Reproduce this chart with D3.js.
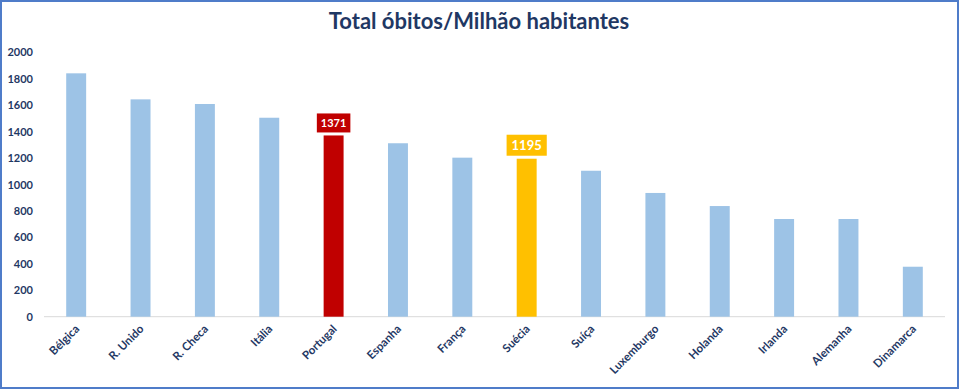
<!DOCTYPE html>
<html><head><meta charset="utf-8">
<script src="https://cdn.jsdelivr.net/npm/d3@7"></script>
<style>body{margin:0;background:#fff}svg{display:block}</style>
</head><body>
<script>
const categories = ["Bélgica","R. Unido","R. Checa","Itália","Portugal","Espanha","França","Suécia","Suíça","Luxemburgo","Holanda","Irlanda","Alemanha","Dinamarca"];
const values = [1841,1644,1609,1505,1371,1312,1203,1195,1104,936,837,739,739,378];
const yTicks = [0,200,400,600,800,1000,1200,1400,1600,1800,2000];
const highlight = {"Portugal":"#C00000","Suécia":"#FFC000"};
const title = "Total óbitos/Milhão habitantes";

const W=960,H=390;
const svg=d3.select("body").append("svg").attr("width",W).attr("height",H);
svg.append("rect").attr("x",1).attr("y",1).attr("width",W-3).attr("height",H-3)
  .attr("fill","#fff").attr("stroke","#4F7CC9").attr("stroke-width",2);

const font="Lato, 'Open Sans', sans-serif";
const navy="#1F3864";

svg.append("text").attr("x",479).attr("y",29).attr("text-anchor","middle")
  .attr("font-family",font).attr("font-weight","bold").attr("font-size",22)
  .attr("fill",navy).text(title);

const x=d3.scaleBand().domain(categories).range([44,945]).paddingInner(0.69).paddingOuter(0.345);
const y=d3.scaleLinear().domain([0,2000]).range([316.7,52.3]);

// y axis labels
const ya=svg.append("g").attr("transform","translate(33,0)")
  .call(d3.axisLeft(y).tickValues(yTicks).tickSize(0).tickPadding(0).tickFormat(d3.format("d")));
ya.select(".domain").remove();
ya.selectAll("text").attr("font-family",font).attr("font-weight","bold").attr("font-size",11).attr("fill",navy);

// baseline
svg.append("line").attr("x1",44).attr("x2",945).attr("y1",y(0)).attr("y2",y(0))
  .attr("stroke","#D9D9D9").attr("stroke-width",1);

svg.selectAll("rect.bar").data(categories).join("rect").attr("class","bar")
  .attr("x",d=>x(d)).attr("width",x.bandwidth())
  .attr("y",(d,i)=>y(values[i])).attr("height",(d,i)=>y(0)-y(values[i]))
  .attr("fill",d=>highlight[d]||"#9DC3E6");

// x labels
const xa=svg.append("g").attr("transform",`translate(0,${y(0)})`)
  .call(d3.axisBottom(x).tickSize(0).tickPadding(0));
xa.select(".domain").remove();
xa.selectAll("text").attr("font-family",font).attr("font-weight","bold").attr("font-size",11.5).attr("fill",navy)
  .attr("text-anchor","end").attr("dy",null)
  .attr("transform","translate(4,13) rotate(-45)");

// data labels for highlighted bars
const lab=[{c:"Portugal",fs:11,padX:4,h:19},{c:"Suécia",fs:13,padX:5,h:21}];
lab.forEach(l=>{
  const i=categories.indexOf(l.c);
  const cx=x(l.c)+x.bandwidth()/2;
  const top=y(values[i]);
  const g=svg.append("g");
  const t=g.append("text").attr("x",cx).attr("y",top-3-l.h/2).attr("dy","0.36em")
    .attr("text-anchor","middle").attr("font-family",font).attr("font-weight","bold")
    .attr("font-size",l.fs).attr("fill","#fff").text(values[i]);
  const bb=t.node().getBBox();
  g.insert("rect","text").attr("x",bb.x-l.padX).attr("width",bb.width+2*l.padX)
    .attr("y",top-3-l.h).attr("height",l.h).attr("fill",highlight[l.c]);
});
</script>
</body></html>
